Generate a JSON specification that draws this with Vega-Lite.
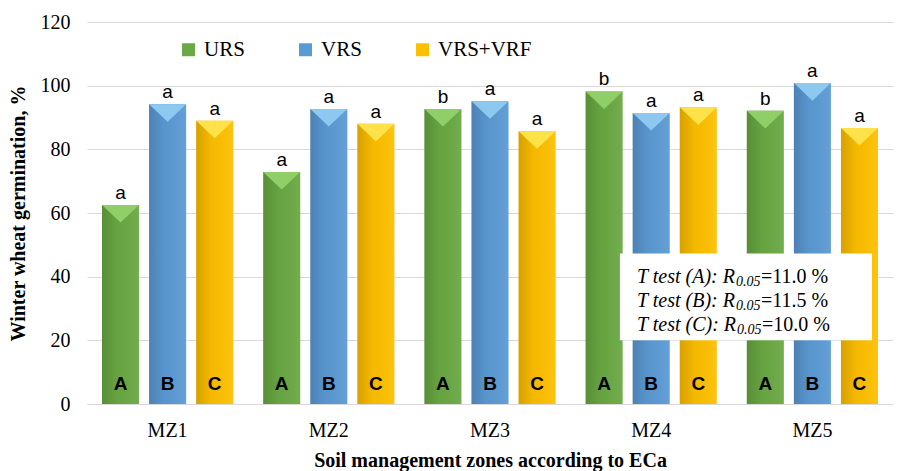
{
  "$schema": "https://vega.github.io/schema/vega-lite/v6.json",
  "width": 806,
  "height": 382,
  "autosize": {"type": "none"},
  "padding": {"left": 87, "top": 22, "right": 8, "bottom": 67},
  "background": "white",
  "config": {"view": {"stroke": null}, "font": "Liberation Serif"},
  "datasets": {
    "bars": [
      {"zone": "MZ1", "treat": "URS", "value": 62.5, "top": "a", "inner": "A"},
      {"zone": "MZ1", "treat": "VRS", "value": 94.2, "top": "a", "inner": "B"},
      {"zone": "MZ1", "treat": "VRS+VRF", "value": 89.0, "top": "a", "inner": "C"},
      {"zone": "MZ2", "treat": "URS", "value": 72.9, "top": "a", "inner": "A"},
      {"zone": "MZ2", "treat": "VRS", "value": 92.7, "top": "a", "inner": "B"},
      {"zone": "MZ2", "treat": "VRS+VRF", "value": 88.0, "top": "a", "inner": "C"},
      {"zone": "MZ3", "treat": "URS", "value": 92.7, "top": "b", "inner": "A"},
      {"zone": "MZ3", "treat": "VRS", "value": 95.1, "top": "a", "inner": "B"},
      {"zone": "MZ3", "treat": "VRS+VRF", "value": 85.7, "top": "a", "inner": "C"},
      {"zone": "MZ4", "treat": "URS", "value": 98.2, "top": "b", "inner": "A"},
      {"zone": "MZ4", "treat": "VRS", "value": 91.4, "top": "a", "inner": "B"},
      {"zone": "MZ4", "treat": "VRS+VRF", "value": 93.2, "top": "a", "inner": "C"},
      {"zone": "MZ5", "treat": "URS", "value": 92.1, "top": "b", "inner": "A"},
      {"zone": "MZ5", "treat": "VRS", "value": 100.8, "top": "a", "inner": "B"},
      {"zone": "MZ5", "treat": "VRS+VRF", "value": 86.7, "top": "a", "inner": "C"}
    ],
    "box": [{"x1": 3.306, "x2": 4.87, "y1": 20.0, "y2": 47.3}],
    "notes": [
      {"main": "T test (A): R", "sub": "0.05", "rest": "=11.0 %", "y": 38.05, "xa": 3.412, "xb": 4.026, "xc": 4.181},
      {"main": "T test (B): R", "sub": "0.05", "rest": "=11.5 %", "y": 30.6, "xa": 3.412, "xb": 4.026, "xc": 4.181},
      {"main": "T test (C): R", "sub": "0.05", "rest": "=10.0 %", "y": 22.8, "xa": 3.412, "xb": 4.032, "xc": 4.187}
    ]
  },
  "layer": [
    {
      "data": {"name": "bars"},
      "encoding": {
        "x": {
          "field": "zone", "type": "nominal",
          "scale": {"paddingInner": 0.186, "paddingOuter": 0.093},
          "axis": {
            "title": "Soil management zones according to ECa",
            "titleFont": "Liberation Serif", "titleFontSize": 20, "titleFontWeight": "bold",
            "titleColor": "black", "titlePadding": 10,
            "labelFont": "Liberation Serif", "labelFontSize": 20, "labelColor": "black",
            "labelAngle": 0, "labelPadding": 16, "ticks": false,
            "domainColor": "#d9d9d9"
          }
        },
        "xOffset": {"field": "treat", "type": "nominal", "scale": {"paddingInner": 0.213, "paddingOuter": 0}}
      },
      "layer": [
        {
          "mark": {"type": "bar"},
          "encoding": {
            "y": {
              "field": "value", "type": "quantitative",
              "scale": {"domain": [0, 120]},
              "axis": {
                "title": "Winter wheat germination, %",
                "titleFont": "Liberation Serif", "titleFontSize": 20, "titleFontWeight": "bold",
                "titleColor": "black", "titlePadding": 12,
                "labelFont": "Liberation Serif", "labelFontSize": 20, "labelColor": "black",
                "values": [0, 20, 40, 60, 80, 100, 120],
                "ticks": false, "domain": false, "labelPadding": 17,
                "gridColor": "#d9d9d9", "gridWidth": 1.2
              }
            },
            "color": {
              "field": "treat", "type": "nominal",
              "scale": {"domain": ["URS", "VRS", "VRS+VRF"], "range": ["#6aa943", "#5b9bd5", "#ffc000"]},
              "legend": {
                "title": null, "orient": "none", "legendX": 91, "legendY": 17,
                "direction": "horizontal", "columnPadding": 50,
                "symbolType": "square", "symbolSize": 169, "symbolStrokeWidth": 0,
                "labelFont": "Liberation Serif", "labelFontSize": 21, "labelColor": "black",
                "labelOffset": 5
              }
            }
          }
        },
        {
          "mark": {
            "type": "bar",
            "fill": {
              "gradient": "linear", "x1": 0, "y1": 0, "x2": 1, "y2": 0,
              "stops": [
                {"offset": 0, "color": "rgba(0,0,0,0.16)"},
                {"offset": 0.4, "color": "rgba(0,0,0,0.04)"},
                {"offset": 1, "color": "rgba(255,255,255,0.06)"}
              ]
            }
          },
          "encoding": {
            "y": {"field": "value", "type": "quantitative", "scale": {"domain": [0, 120]}}
          }
        },
        {
          "mark": {"type": "point", "shape": "M -1 0 L 1 0 L 0 0.95 Z", "filled": true, "size": 1369, "opacity": 1},
          "encoding": {
            "y": {"field": "value", "type": "quantitative", "scale": {"domain": [0, 120]}},
            "color": {
              "field": "treat", "type": "nominal",
              "scale": {"domain": ["URS", "VRS", "VRS+VRF"], "range": ["#90cf68", "#8cc8f0", "#ffe24a"]},
              "legend": null
            }
          }
        },
        {
          "mark": {"type": "text", "font": "Liberation Sans", "fontSize": 19, "baseline": "alphabetic", "dy": -6, "color": "black"},
          "encoding": {
            "y": {"field": "value", "type": "quantitative", "scale": {"domain": [0, 120]}},
            "text": {"field": "top"}
          }
        },
        {
          "mark": {"type": "text", "font": "Liberation Sans", "fontSize": 19, "fontWeight": "bold", "baseline": "middle", "dy": -20, "color": "black"},
          "encoding": {
            "y": {"datum": 0, "type": "quantitative", "scale": {"domain": [0, 120]}},
            "text": {"field": "inner"}
          }
        }
      ],
      "resolve": {"scale": {"color": "independent"}}
    },
    {
      "layer": [
        {
          "data": {"name": "box"},
          "mark": {"type": "rect", "color": "white"},
          "encoding": {
            "x": {"field": "x1", "type": "quantitative", "scale": {"domain": [0, 5]}, "axis": null},
            "x2": {"field": "x2"},
            "y": {"field": "y1", "type": "quantitative", "scale": {"domain": [0, 120]}, "axis": null},
            "y2": {"field": "y2"}
          }
        },
        {
          "data": {"name": "notes"},
          "mark": {"type": "text", "font": "Liberation Serif", "fontSize": 20, "fontStyle": "italic", "align": "left", "baseline": "alphabetic", "color": "black"},
          "encoding": {
            "x": {"field": "xa", "type": "quantitative", "scale": {"domain": [0, 5]}, "axis": null},
            "y": {"field": "y", "type": "quantitative", "scale": {"domain": [0, 120]}, "axis": null},
            "text": {"field": "main"}
          }
        },
        {
          "data": {"name": "notes"},
          "mark": {"type": "text", "font": "Liberation Serif", "fontSize": 14, "fontStyle": "italic", "align": "left", "baseline": "alphabetic", "dy": 3, "color": "black"},
          "encoding": {
            "x": {"field": "xb", "type": "quantitative", "scale": {"domain": [0, 5]}, "axis": null},
            "y": {"field": "y", "type": "quantitative", "scale": {"domain": [0, 120]}, "axis": null},
            "text": {"field": "sub"}
          }
        },
        {
          "data": {"name": "notes"},
          "mark": {"type": "text", "font": "Liberation Serif", "fontSize": 20, "align": "left", "baseline": "alphabetic", "color": "black"},
          "encoding": {
            "x": {"field": "xc", "type": "quantitative", "scale": {"domain": [0, 5]}, "axis": null},
            "y": {"field": "y", "type": "quantitative", "scale": {"domain": [0, 120]}, "axis": null},
            "text": {"field": "rest"}
          }
        }
      ]
    }
  ],
  "resolve": {"scale": {"x": "independent", "y": "independent"}}
}
